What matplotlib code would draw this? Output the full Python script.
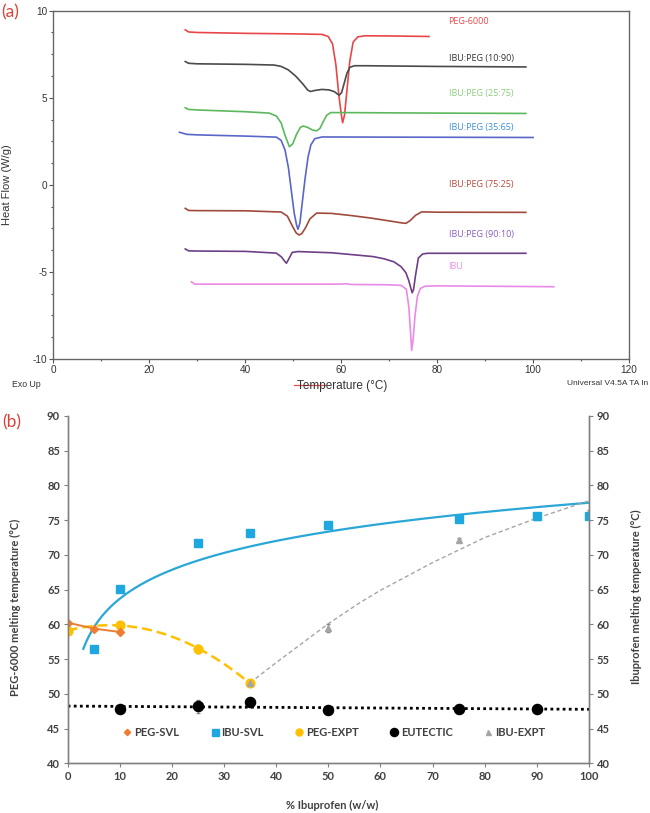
import numpy as np
import matplotlib
matplotlib.use("Agg")
import matplotlib.pyplot as plt
from matplotlib.lines import Line2D

plt.rcParams['axes.unicode_minus'] = False

# ---------------- Panel (a): DSC thermograms (temperature °C, heat flow W/g) ----------------
peg6000_T = [27.5, 28.2, 30, 40, 50, 56.0, 57.3, 58.2, 58.9, 59.5, 60.0, 60.3, 60.7, 61.2, 61.8, 62.5, 63.5, 65, 70, 78.3]
peg6000_H = [8.90, 8.78, 8.75, 8.70, 8.67, 8.64, 8.52, 8.1, 6.9, 5.2, 4.1, 3.57, 4.0, 5.4, 7.1, 8.2, 8.5, 8.56, 8.55, 8.52]

mix1090_T = [27.5, 28.2, 30, 40, 46, 47.5, 49, 50.5, 52, 53.0, 53.6, 54.5, 56, 57.5, 58.6, 59.2, 59.6, 60.1, 60.6, 61.2, 61.8, 62.8, 65, 80, 98.5]
mix1090_H = [7.08, 6.98, 6.95, 6.92, 6.88, 6.80, 6.6, 6.25, 5.8, 5.45, 5.36, 5.42, 5.48, 5.45, 5.35, 5.22, 5.15, 5.3, 5.8, 6.4, 6.75, 6.84, 6.84, 6.80, 6.77]

mix2575_T = [27.5, 28.2, 30, 40, 45, 46.5, 47.5, 48.3, 49.2, 49.9, 50.7, 51.5, 52.1, 53.0, 54.0, 54.9, 55.6, 56.3, 57.0, 57.8, 60, 80, 98.5]
mix2575_H = [4.43, 4.33, 4.30, 4.20, 4.12, 3.95, 3.55, 2.85, 2.19, 2.35, 2.9, 3.3, 3.38, 3.3, 3.15, 3.1, 3.25, 3.65, 4.0, 4.15, 4.15, 4.12, 4.10]

mix3565_T = [26.3, 27.8, 30, 40, 46.5, 47.5, 48.3, 49.0, 49.6, 50.2, 50.7, 51.0, 51.4, 51.9, 52.5, 53.1, 53.7, 54.5, 56, 70, 100]
mix3565_H = [3.02, 2.90, 2.87, 2.80, 2.74, 2.55, 2.0, 1.0, -0.3, -1.6, -2.3, -2.55, -2.2, -1.0, 0.4, 1.6, 2.3, 2.65, 2.75, 2.74, 2.72]

mix7525_T = [27.5, 28.2, 30, 40, 47.5, 48.8, 49.8, 50.6, 51.2, 51.8, 52.6, 53.5, 54.9, 58, 62, 66, 70, 72.5, 73.5, 74.4, 75.5, 76.8, 80, 98.5]
mix7525_H = [-1.35, -1.47, -1.48, -1.49, -1.56, -1.8, -2.35, -2.75, -2.88, -2.8, -2.45, -1.95, -1.62, -1.64, -1.76, -1.9, -2.07, -2.18, -2.21, -2.05, -1.75, -1.55, -1.57, -1.58]

mix9010_T = [27.5, 28.2, 30, 40, 46.5, 47.6, 48.2, 48.6, 49.1, 49.8, 51, 58, 62, 66.7, 69, 71, 72.5, 73.5, 74.1, 74.5, 74.8, 75.1, 75.5, 76.1, 77.0, 78, 98.5]
mix9010_H = [-3.68, -3.79, -3.80, -3.82, -3.92, -4.15, -4.38, -4.5, -4.25, -3.88, -3.83, -3.9, -4.0, -4.12, -4.25, -4.42, -4.7, -5.05, -5.5, -5.9, -6.2, -6.0, -5.2, -4.2, -3.97, -3.93, -3.93]

ibu_T = [28.8, 29.5, 35, 50, 60, 61, 62, 70, 72.5, 73.6, 74.1, 74.5, 74.7, 75.0, 75.4, 75.9, 76.5, 77.5, 80, 104.3]
ibu_H = [-5.57, -5.70, -5.70, -5.70, -5.70, -5.68, -5.72, -5.74, -5.77, -6.0, -7.0, -8.6, -9.5, -8.9, -7.5, -6.4, -5.95, -5.82, -5.80, -5.85]

curve_names = ["PEG-6000", "IBU:PEG (10:90)", "IBU:PEG (25:75)", "IBU:PEG (35:65)",
               "IBU:PEG (75:25)", "IBU:PEG (90:10)", "IBU"]
label_y = [9.38, 7.27, 5.22, 3.30, 0.0, -2.86, -4.70]

# ---------------- Panel (b): phase diagram ----------------
pct_peg_svl = [0, 5, 10]
peg_svl = [60.25, 59.4, 58.9]

pct_ibu_svl = [5, 10, 25, 35, 50, 75, 90, 100]
ibu_svl = [56.5, 65.1, 71.7, 73.2, 74.3, 75.2, 75.6, 75.6]

pct_peg_expt = [0, 10, 25, 35]
peg_expt = [59.1, 59.9, 56.5, 51.5]
peg_expt_err = [0.2, 0.2, 0.6, 0.3]

pct_eutectic = [10, 25, 35, 50, 75, 90]
eutectic = [47.8, 48.2, 48.8, 47.7, 47.8, 47.8]
eutectic_err = [0.2, 0.9, 0.3, 0.3, 0.3, 0.2]

pct_ibu_expt = [35, 50, 75, 90, 100]
ibu_expt = [51.5, 59.5, 72.2, 75.5, 76.1]
ibu_expt_err = [0.3, 0.6, 0.2, 0.2, 0.3]

# dashed grey liquidus line
ibu_trend_x = [35, 40, 45, 50, 56, 60, 70, 80, 90, 100]
ibu_trend_y = [51.6, 54.5, 57.3, 60.1, 63.1, 64.9, 68.9, 72.5, 75.3, 77.8]

# ================= Figure =================
W, H = 650, 813
fig = plt.figure(figsize=(W / 100, H / 100), dpi=100)

def fx(px):
    return px / W

def fy(py):
    return 1 - py / H

# ---- panel (a)
axA = fig.add_axes([fx(53.3), fy(359), (629 - 53.3) / W, (359 - 10.7) / H])
colsA = ["#e8474a", "#4a4a4a", "#5cb85c", "#5a66c8", "#a04a3c", "#6e3f86", "#ea8ae8"]
label_cols = ["#e8474a", "#333333", "#8ccc7c", "#3d8fd6", "#b8473a", "#8a5cc0", "#ec8cec"]
curves = [(peg6000_T, peg6000_H), (mix1090_T, mix1090_H), (mix2575_T, mix2575_H),
          (mix3565_T, mix3565_H), (mix7525_T, mix7525_H), (mix9010_T, mix9010_H),
          (ibu_T, ibu_H)]
for (T, Hf), c in zip(curves, colsA):
    axA.plot(T, Hf, color=c, lw=1.2, solid_joinstyle='round')
for name, yv, c in zip(curve_names, label_y, label_cols):
    axA.text(82.4, yv, name, color=c, fontsize=6.5, family="Open Sans", va='center', ha='left')

axA.set_xlim(0, 120)
axA.set_ylim(-10, 10)
axA.set_xticks(np.arange(0, 121, 20))
axA.set_xticks(np.arange(0, 121, 10), minor=True)
axA.set_yticks([-10, -5, 0, 5, 10])
axA.set_yticks(np.arange(-10, 10.01, 1.25), minor=True)
for lab in axA.get_xticklabels() + axA.get_yticklabels():
    lab.set_family("Liberation Sans")
    lab.set_fontsize(7.2)
    lab.set_color("#333333")
axA.tick_params(which='major', direction='out', length=3, width=0.8, color="#555555", pad=1.5)
axA.tick_params(which='minor', direction='out', length=1.5, width=0.8, color="#555555")
for s in axA.spines.values():
    s.set_color("#666666")
    s.set_linewidth(1.0)

fig.text(fx(7), fy(185), "Heat Flow (W/g)", rotation=90, va='center', ha='center',
         family="Liberation Sans", fontsize=8, color="#333333")
fig.text(fx(342), fy(386), "Temperature (°C)", va='center', ha='center',
         family="Liberation Sans", fontsize=8.5, color="#333333")
fig.add_artist(Line2D([fx(294), fx(325)], [fy(385), fy(385)], color="#e05050", lw=0.9))
fig.text(fx(12), fy(384), "Exo Up", va='center', ha='left',
         family="Liberation Sans", fontsize=6.3, color="#333333")
fig.text(fx(648), fy(383), "Universal V4.5A TA In", va='center', ha='right',
         family="Liberation Sans", fontsize=6.0, color="#333333")
fig.text(fx(1), fy(12), "(a)", va='center', ha='left', family="Lato", fontsize=12.5, color="#d9413a")

# ---- panel (b)
axB = fig.add_axes([fx(67.7), fy(763.3), (589 - 67.7) / W, (763.3 - 416) / H])
c_orange = "#ed7d31"
c_blue = "#1fa7e0"
c_yellow = "#ffc000"
c_gray = "#a5a5a5"
c_line_blue = "#2aa7d6"

# trend lines
lx = np.log(np.array(pct_ibu_svl, dtype=float))
k_ibu = np.polyfit(lx, ibu_svl, 1)
xs = np.linspace(3, 100, 300)
axB.plot(xs, np.polyval(k_ibu, np.log(xs)), color=c_line_blue, lw=1.6, zorder=2)

k_peg = np.polyfit(pct_peg_expt, peg_expt, 2)
xs2 = np.linspace(0, 35, 200)
axB.plot(xs2, np.polyval(k_peg, xs2), color=c_yellow, lw=1.8, ls=(0, (4, 2)), zorder=2)

axB.plot(ibu_trend_x, ibu_trend_y, color=c_gray, lw=1.0, ls=(0, (3, 2)), zorder=2)

k_eut = np.polyfit(pct_eutectic, eutectic, 1)
xs3 = np.array([0, 100])
axB.plot(xs3, np.polyval(k_eut, xs3), color="black", lw=2.0, ls=(0, (1, 1.2)), zorder=2)

axB.plot(pct_peg_svl, peg_svl, color=c_orange, lw=1.4, zorder=3)

# markers
axB.errorbar(pct_eutectic, eutectic, yerr=eutectic_err, fmt='none', ecolor="#888888", elinewidth=0.8, capsize=1.5, zorder=3)
axB.errorbar(pct_peg_expt, peg_expt, yerr=peg_expt_err, fmt='none', ecolor="#888888", elinewidth=0.8, capsize=1.5, zorder=3)
axB.errorbar(pct_ibu_expt, ibu_expt, yerr=ibu_expt_err, fmt='none', ecolor="#888888", elinewidth=0.8, capsize=1.5, zorder=3)

h1, = axB.plot(pct_peg_svl, peg_svl, ls='none', marker='D', ms=4, color=c_orange, label="PEG-SVL", zorder=5)
h2, = axB.plot(pct_ibu_svl, ibu_svl, ls='none', marker='s', ms=6.3, color=c_blue, label="IBU-SVL", zorder=5)
h3, = axB.plot(pct_peg_expt, peg_expt, ls='none', marker='o', ms=6.3, color=c_yellow, label="PEG-EXPT", zorder=4)
h4, = axB.plot(pct_eutectic, eutectic, ls='none', marker='o', ms=7.3, color="black", label="EUTECTIC", zorder=4)
h5, = axB.plot(pct_ibu_expt, ibu_expt, ls='none', marker='^', ms=4.5, color=c_gray, label="IBU-EXPT", zorder=4)

leg = axB.legend(handles=[h1, h2, h3, h4, h5], loc='center', bbox_to_anchor=(0.512, 0.09),
                 ncol=5, frameon=False, handlelength=0.6, handletextpad=0.3, columnspacing=2.9,
                 prop={'family': 'Lato', 'weight': 'bold', 'size': 8}, markerscale=0.8)
for t in leg.get_texts():
    t.set_color("#404040")

axB.set_xlim(0, 100)
axB.set_ylim(40, 90)
axB.set_xticks(np.arange(0, 101, 10))
axB.set_yticks(np.arange(40, 91, 5))
axB.spines['top'].set_visible(False)
for s in ['left', 'right', 'bottom']:
    axB.spines[s].set_color("#808080")
    axB.spines[s].set_linewidth(1.0)
axB.tick_params(direction='out', length=3, width=0.8, color="#808080", pad=2.5,
                labelsize=8, labelcolor="#404040")
for lab in axB.get_xticklabels() + axB.get_yticklabels():
    lab.set_family("Lato")
    lab.set_fontweight("bold")

axR = axB.twinx()
axR.set_ylim(40, 90)
axR.set_yticks(np.arange(40, 91, 5))
axR.spines['top'].set_visible(False)
for s in ['left', 'right', 'bottom']:
    axR.spines[s].set_color("#808080")
    axR.spines[s].set_linewidth(1.0)
axR.tick_params(direction='out', length=3, width=0.8, color="#808080", pad=2.5,
                labelsize=8, labelcolor="#404040")
for lab in axR.get_yticklabels():
    lab.set_family("Lato")
    lab.set_fontweight("bold")

fig.text(fx(15), fy(607), "PEG-6000 melting temperature (°C)", rotation=90, va='center', ha='center',
         family="Lato", fontweight='bold', fontsize=8, color="#404040")
fig.text(fx(636), fy(597), "Ibuprofen melting temperature (°C)", rotation=90, va='center', ha='center',
         family="Lato", fontweight='bold', fontsize=8, color="#404040")
fig.text(fx(332), fy(805), "% Ibuprofen (w/w)", va='center', ha='center',
         family="Lato", fontweight='bold', fontsize=8, color="#404040")
fig.text(fx(2), fy(422), "(b)", va='center', ha='left', family="Lato", fontsize=12.5, color="#d9413a")

fig.savefig("out.png", dpi=100)
